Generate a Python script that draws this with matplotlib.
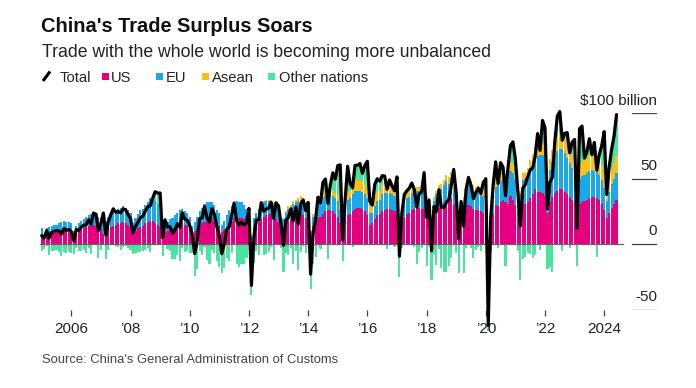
import numpy as np
import matplotlib
matplotlib.use("Agg")
import matplotlib.pyplot as plt
from matplotlib.patches import Rectangle
from matplotlib.lines import Line2D
from matplotlib.transforms import blended_transform_factory

plt.rcParams['font.family'] = ['Liberation Sans', 'DejaVu Sans']

# ----- monthly data, Jan 2005 - Jun 2024, $ billion -----
start_year = 2005

total = [
    6.5, 4.6, 10.3, 4.6, 9.0, 9.7, 10.5, 10.0, 7.6, 12.0, 10.5, 11.3,      # 2005
    9.6, 2.5, 11.2, 10.5, 13.0, 14.5, 14.6, 18.8, 15.3, 23.8, 22.9, 10.4,  # 2006
    15.9, 23.8, 6.9, 16.9, 22.5, 27.0, 24.4, 25.0, 23.9, 27.0, 26.3, 22.7, # 2007
    19.5, 8.6, 13.4, 16.7, 20.2, 21.4, 25.3, 28.7, 29.3, 35.2, 40.1, 39.0, # 2008
    39.1, 4.8, 18.6, 13.1, 13.4, 8.3, 10.6, 15.7, 12.9, 24.0, 19.1, 18.4,  # 2009
    14.2, 7.6, -7.2, 1.7, 19.5, 20.0, 28.7, 20.0, 16.9, 27.2, 22.9, 13.1,  # 2010
    6.5, -7.3, 0.1, 11.4, 13.1, 22.3, 31.5, 17.8, 14.5, 17.0, 14.5, 16.5,  # 2011
    27.3, -31.5, 5.4, 18.4, 18.7, 31.7, 25.1, 26.7, 27.7, 32.0, 19.6, 31.6, # 2012
    29.2, 15.3, -0.9, 18.2, 20.4, 27.1, 17.8, 28.5, 15.2, 31.1, 33.8, 25.6, # 2013
    31.9, -23.0, 7.7, 18.5, 35.9, 31.6, 47.3, 49.8, 31.0, 45.4, 54.5, 49.6, # 2014
    60.0, 60.6, 3.1, 34.1, 59.5, 46.5, 43.0, 60.2, 60.3, 61.6, 54.1, 60.1, # 2015
    63.3, 32.6, 29.9, 45.6, 50.0, 48.1, 52.3, 52.1, 42.0, 49.1, 44.6, 40.8, # 2016
    51.4, -9.2, 23.9, 38.0, 40.8, 42.8, 46.7, 42.0, 28.5, 38.2, 40.2, 54.7, # 2017
    20.3, 33.7, -5.0, 28.8, 24.9, 41.6, 28.1, 27.9, 31.7, 34.0, 44.7, 57.1, # 2018
    39.2, 4.1, 32.6, 13.8, 41.7, 51.0, 45.1, 34.8, 39.6, 42.8, 38.7, 47.2, # 2019
    50.0, -62.0, 19.9, 45.3, 62.9, 46.4, 62.3, 58.9, 37.0, 58.4, 75.4, 78.2, # 2020
    65.0, 40.0, 13.8, 42.9, 45.5, 51.5, 56.6, 58.3, 66.8, 84.5, 71.7, 94.5, # 2021
    89.0, 27.0, 47.4, 51.1, 78.8, 97.9, 101.3, 79.4, 84.7, 85.2, 69.8, 78.0, # 2022
    80.0, 12.0, 88.2, 90.2, 65.8, 70.6, 80.6, 68.4, 77.7, 56.5, 68.4, 75.3, # 2023
    86.0, 38.0, 58.6, 72.4, 82.6, 99.0,                                    # 2024
]

us = [
    8, 5, 8, 9, 9, 10, 10, 11, 11, 12, 11, 11,
    10, 6, 9, 10, 11, 12, 13, 14, 14, 15, 14, 13,
    12, 8, 10, 12, 13, 14, 15, 16, 16, 17, 16, 15,
    13, 8, 10, 12, 13, 14, 16, 17, 18, 18, 16, 15,
    13, 8, 9, 10, 11, 12, 13, 14, 15, 16, 15, 14,
    12, 8, 10, 12, 14, 16, 17, 18, 19, 19, 18, 16,
    14, 9, 11, 13, 15, 17, 19, 20, 20, 20, 19, 17,
    15, 5, 13, 15, 17, 19, 21, 22, 23, 23, 21, 19,
    17, 12, 13, 16, 18, 19, 21, 22, 23, 24, 22, 20,
    18, 7, 14, 17, 20, 21, 23, 25, 26, 26, 25, 23,
    21, 16, 10, 19, 22, 23, 25, 27, 28, 28, 27, 25,
    22, 15, 16, 19, 22, 23, 25, 26, 27, 27, 26, 25,
    22, 10, 16, 20, 23, 24, 26, 27, 28, 28, 27, 27,
    22, 21, 14, 22, 25, 28, 28, 31, 34, 32, 35, 30,
    28, 15, 20, 21, 27, 30, 29, 27, 26, 26, 25, 24,
    22, 3, 15, 23, 30, 29, 32, 34, 32, 31, 37, 34,
    30, 25, 24, 31, 31, 32, 35, 38, 42, 40, 40, 39,
    37, 24, 32, 36, 39, 41, 42, 42, 40, 38, 36, 34,
    32, 16, 31, 32, 33, 34, 35, 36, 36, 35, 34, 31,
    26, 20, 24, 28, 31, 34,
]

eu = [
    4, 3, 4, 4, 5, 5, 5, 5, 6, 6, 6, 6,
    6, 4, 5, 6, 7, 7, 8, 8, 9, 9, 9, 8,
    8, 7, 8, 9, 10, 10, 11, 11, 12, 12, 12, 11,
    11, 8, 10, 11, 13, 13, 14, 15, 17, 17, 17, 16,
    11, 6, 7, 7, 8, 8, 9, 10, 11, 11, 10, 10,
    9, 6, 7, 9, 11, 12, 14, 14, 13, 13, 12, 10,
    10, 6, 7, 9, 11, 12, 13, 13, 12, 12, 11, 10,
    10, 2, 7, 9, 10, 11, 11, 11, 10, 10, 10, 9,
    8, 5, 6, 8, 9, 9, 10, 10, 10, 10, 10, 9,
    9, 3, 7, 9, 11, 11, 12, 12, 12, 12, 12, 12,
    12, 10, 5, 10, 12, 12, 13, 14, 13, 13, 13, 13,
    13, 9, 8, 10, 11, 11, 13, 13, 12, 12, 12, 12,
    12, 5, 8, 10, 12, 12, 13, 13, 13, 13, 13, 13,
    12, 11, 7, 11, 13, 13, 14, 14, 14, 14, 15, 14,
    14, 9, 10, 12, 14, 15, 15, 14, 14, 14, 14, 13,
    12, 1, 8, 11, 14, 16, 16, 16, 17, 17, 19, 20,
    20, 16, 14, 18, 19, 21, 23, 25, 26, 27, 28, 29,
    28, 17, 25, 27, 29, 30, 31, 31, 30, 28, 26, 24,
    22, 10, 19, 20, 20, 20, 21, 21, 20, 20, 19, 18,
    17, 13, 16, 18, 19, 20,
]

asean = [
    -1, -1, -1, -1, -1, -1, -1, -1, -1, -1, -1, -1,
    -1, -1, -1, -1, -1, -1, -1, -1, -1, -1, -1, -1,
    -1, -1, -1, -1, 0, 0, 0, 0, 0, 0, 0, 0,
    -1, -1, -1, -1, -1, -1, 0, 0, 0, 0, 0, 0,
    0, 0, 0, 0, 0, 0, 0, 0, 0, 0, 0, 0,
    -1, -1, -2, -2, -1, -1, -1, 0, 0, 0, 0, 0,
    -1, -2, -2, -2, -1, -1, -1, -1, 0, 0, 0, 0,
    -1, -1, -1, 0, 0, 0, 1, 1, 1, 1, 1, 1,
    1, 1, 1, 1, 2, 2, 2, 2, 2, 3, 3, 3,
    2, 1, 2, 2, 3, 3, 3, 4, 4, 4, 4, 4,
    5, 5, 1, 5, 6, 6, 7, 7, 8, 8, 8, 8,
    7, 5, 5, 6, 7, 7, 7, 7, 7, 7, 7, 6,
    5, 1, 3, 3, 4, 4, 4, 4, 3, 3, 3, 4,
    3, 3, 1, 3, 3, 4, 4, 4, 5, 5, 5, 5,
    4, 2, 3, 3, 4, 4, 4, 4, 4, 5, 5, 5,
    4, 0, 3, 4, 5, 4, 5, 5, 5, 5, 6, 7,
    5, 4, 3, 5, 5, 5, 6, 6, 7, 7, 8, 9,
    9, 5, 8, 9, 10, 11, 12, 12, 12, 12, 11, 11,
    11, 3, 11, 11, 11, 11, 12, 12, 12, 11, 11, 11,
    11, 6, 10, 11, 12, 13,
]

x_tick_months = [12, 36, 60, 84, 108, 132, 156, 180, 204, 228]
x_tick_labels = ['2006', '\u201908', '\u201910', '\u201912', '\u201914',
                 '\u201916', '\u201918', '\u201920', '\u201922', '2024']
y_ticks = [100, 50, 0, -50]
y_tick_labels = ['$100 billion', '50', '0', '-50']

colors = {'US': '#e4007f', 'EU': '#1aa8ea', 'Asean': '#f9c01a', 'Other nations': '#4be3a0'}

# ----- prep -----
total = np.array(total, dtype=float)
us = np.array(us, dtype=float)
eu = np.array(eu, dtype=float)
asean = np.array(asean, dtype=float)
other = total - us - eu - asean   # everything not in the three named partners
months = np.arange(len(total))

W, H = 696, 388
def fx(px):
    return px / W
def fy(py):
    return 1 - py / H

fig = plt.figure(figsize=(W / 100, H / 100), dpi=100)
ax = fig.add_axes([fx(40), fy(309.6), (657 - 40) / W, (309.6 - 113.3) / H])
ax.set_xlim(-0.69, 249.4)
ax.set_ylim(-50, 100)
for s in ax.spines.values():
    s.set_visible(False)
ax.set_yticks([])

# stacked bars: positives stack upward, negatives downward
pos_bottom = np.zeros(len(total))
neg_bottom = np.zeros(len(total))
for name, vals in [('US', us), ('EU', eu), ('Asean', asean), ('Other nations', other)]:
    pos = np.where(vals > 0, vals, 0)
    neg = np.where(vals < 0, vals, 0)
    ax.bar(months, pos, bottom=pos_bottom, width=0.85, color=colors[name],
           linewidth=0, zorder=2, clip_on=False)
    ax.bar(months, neg, bottom=neg_bottom, width=0.85, color=colors[name],
           linewidth=0, zorder=2, clip_on=False)
    pos_bottom += pos
    neg_bottom += neg

ax.plot(months, total, color='black', lw=2.3, zorder=4, clip_on=False,
        solid_joinstyle='round', solid_capstyle='round')

# zero baseline and short right-hand gridlines
ax.axhline(0, xmin=0, xmax=(623 - 40) / 617, color='#666666', lw=0.9, zorder=3)
ytrans = blended_transform_factory(ax.transAxes, ax.transData)
for v, lab in zip(y_ticks, y_tick_labels):
    ax.axhline(v, xmin=(632 - 40) / 617, xmax=1.0, color='#444444', lw=0.9)
    ax.annotate(lab, xy=(1.0, v), xycoords=ytrans, xytext=(0, 6.3),
                textcoords='offset points', ha='right', va='baseline',
                fontsize=11, color='#222222')

# x ticks
ax.set_xticks(x_tick_months)
ax.set_xticklabels([])
ax.tick_params(axis='x', length=4.3, width=0.9, color='#444444', direction='out')
xtrans = blended_transform_factory(ax.transData, fig.transFigure)
for m, lab in zip(x_tick_months, x_tick_labels):
    ax.text(m, fy(333.3), lab, transform=xtrans, ha='center', va='baseline',
            fontsize=11, color='#222222')

# titles
fig.text(fx(41), fy(31.7), "China's Trade Surplus Soars", fontsize=14.4,
         fontweight='bold', color='#111111', va='baseline')
fig.text(fx(42), fy(57.3), "Trade with the whole world is becoming more unbalanced",
         fontsize=12.7, color='#222222', va='baseline')

# legend
fig.add_artist(Line2D([fx(43), fx(50)], [fy(81), fy(71.5)], transform=fig.transFigure,
                      color='black', lw=2.2, solid_capstyle='butt'))
fig.text(fx(60), fy(81.7), 'Total', fontsize=10.6, color='#222222', va='baseline')
legend_items = [('US', 102, 111), ('EU', 156, 166), ('Asean', 202, 212),
                ('Other nations', 268, 279)]
for name, sq_x, tx in legend_items:
    fig.add_artist(Rectangle((fx(sq_x), fy(80)), 7 / W, 7 / H, transform=fig.transFigure,
                             color=colors[name], lw=0))
    fig.text(fx(tx), fy(81.7), name, fontsize=10.6, color='#222222', va='baseline')

fig.text(fx(41.5), fy(363), "Source: China's General Administration of Customs",
         fontsize=9.4, color='#444444', va='baseline')

fig.savefig('out.png', dpi=100)
